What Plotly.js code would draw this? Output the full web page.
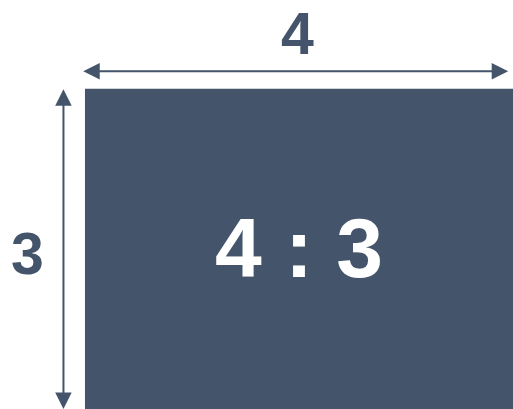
<!DOCTYPE html>
<html>
<head>
<meta charset="utf-8">
<script src="https://cdn.plot.ly/plotly-3.0.1.min.js"></script>
<style>
html,body{margin:0;padding:0;background:#fff;}
#chart{width:513px;height:409px;}
</style>
</head>
<body>
<div id="chart"></div>
<script>
// Aspect ratio data
const ratioValues = [4, 3];          // width, height
const ratioLabels = ['4', '3'];      // side labels
const centerLabel = '4 : 3';

const W = ratioValues[0], H = ratioValues[1];
const color = '#44546A';
const font = {family: 'Liberation Sans, Arial, sans-serif', weight: 'bold'};

const rect = {
  type: 'scatter', mode: 'lines',
  x: [0, W, W, 0, 0],
  y: [0, 0, H, H, 0],
  fill: 'toself', fillcolor: color,
  line: {width: 0, color: color},
  hoverinfo: 'skip', showlegend: false
};

const layout = {
  width: 513, height: 409,
  margin: {l: 0, r: 0, t: 0, b: 0},
  paper_bgcolor: '#ffffff', plot_bgcolor: '#ffffff',
  showlegend: false,
  xaxis: {range: [-0.794, W], visible: false, fixedrange: true},
  yaxis: {range: [0, H + 0.832], visible: false, fixedrange: true},
  annotations: [
    // horizontal two-headed arrow
    {x: W - 0.045, y: H + 0.164, ax: -0.03, ay: H + 0.164, xref: 'x', yref: 'y', axref: 'x', ayref: 'y',
     text: '', showarrow: true, arrowhead: 2, startarrowhead: 2, arrowside: 'end+start',
     arrowsize: 1.65, startarrowsize: 1.65, arrowwidth: 2, arrowcolor: color},
    // vertical two-headed arrow
    {x: -0.201, y: 0.0, ax: -0.201, ay: H + 0.01, xref: 'x', yref: 'y', axref: 'x', ayref: 'y',
     text: '', showarrow: true, arrowhead: 2, startarrowhead: 2, arrowside: 'end+start',
     arrowsize: 1.65, startarrowsize: 1.65, arrowwidth: 2, arrowcolor: color},
    {x: W / 2 - 0.01, y: H + 0.51, xref: 'x', yref: 'y', text: ratioLabels[0], showarrow: false,
     font: Object.assign({size: 59, color: color}, font)},
    {x: -0.537, y: H / 2 - 0.047, xref: 'x', yref: 'y', text: ratioLabels[1], showarrow: false,
     font: Object.assign({size: 59, color: color}, font)},
    {x: W / 2, y: H / 2 + 0.01, xref: 'x', yref: 'y', text: centerLabel, showarrow: false,
     font: Object.assign({size: 84, color: '#ffffff'}, font)}
  ]
};

Plotly.newPlot('chart', [rect], layout, {staticPlot: true, displayModeBar: false});
</script>
</body>
</html>
